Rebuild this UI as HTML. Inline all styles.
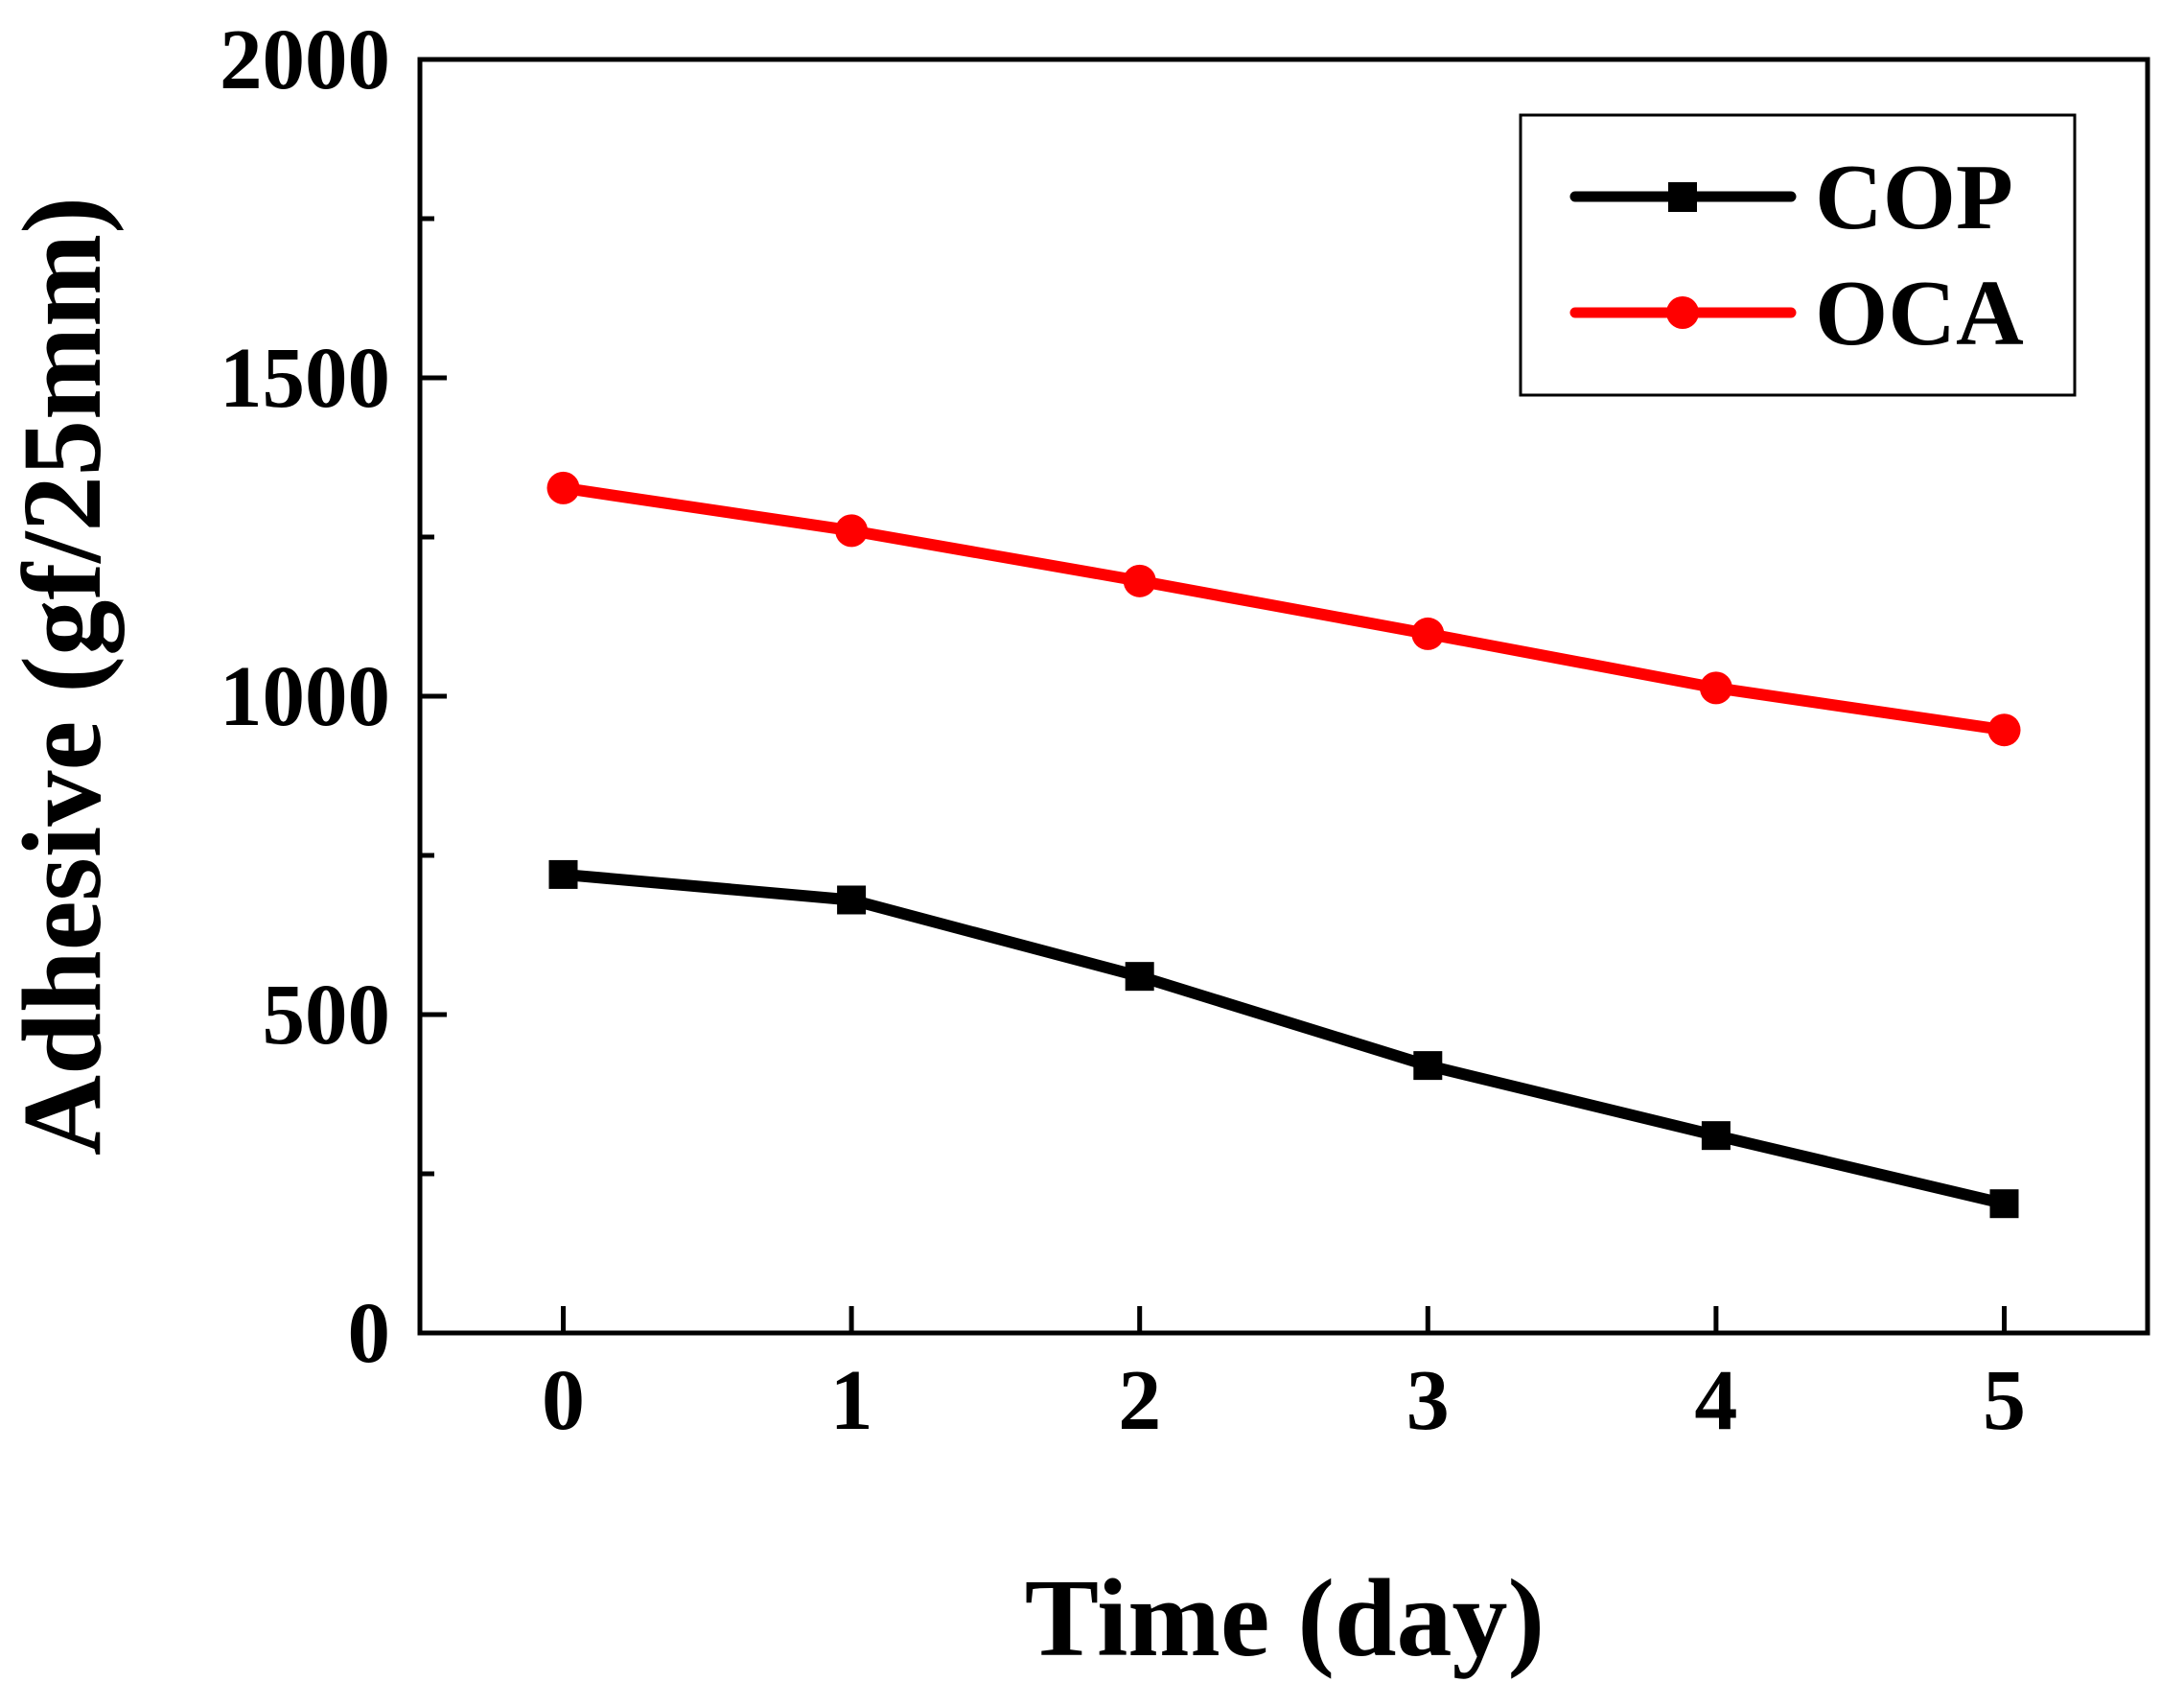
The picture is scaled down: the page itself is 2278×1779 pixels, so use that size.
<!DOCTYPE html>
<html><head><meta charset="utf-8"><style>
html,body{margin:0;padding:0;background:#fff;}
svg{display:block;}
text{font-family:"Liberation Serif",serif;font-weight:bold;fill:#000;}
</style></head><body>
<svg id="chart" width="2278" height="1779" viewBox="0 0 2278 1779" xmlns="http://www.w3.org/2000/svg">
<g id="plot"></g>
</svg>
<script>
const categories = [0, 1, 2, 3, 4, 5];
const copValues = [720, 680, 560, 420, 310, 203];
const ocaValues = [1327, 1260, 1181, 1098, 1013, 947];
const yTickValues = [0, 500, 1000, 1500, 2000];
const yTickLabels = ["0", "500", "1000", "1500", "2000"];
const yMinorValues = [250, 750, 1250, 1750];
const xTickLabels = ["0", "1", "2", "3", "4", "5"];

const NS = "http://www.w3.org/2000/svg";
const L = 438, R = 2240, T = 62, B = 1390;
const x = v => 587.5 + v * 300.6;
const y = v => B - (v / 2000) * (B - T);
const g = document.getElementById('plot');
function mk(tag, attrs, parent) {
  const e = document.createElementNS(NS, tag);
  for (const k in attrs) e.setAttribute(k, attrs[k]);
  (parent || g).appendChild(e);
  return e;
}

let frame = mk('rect', {x: L, y: T, width: R - L, height: B - T, fill: 'none', stroke: '#000', 'stroke-width': 5});



yTickValues.forEach((v, i) => {
  const t = mk('line', {x1: L, x2: L + 28, y1: y(v), y2: y(v), stroke: '#000', 'stroke-width': 5});
  
  
  const lb = mk('text', {x: 407, y: y(v) + 30, 'text-anchor': 'end', 'font-size': 90, textLength: yTickLabels[i].length * 44.5, lengthAdjust: 'spacingAndGlyphs'});
  lb.textContent = yTickLabels[i];
  
  
});
yMinorValues.forEach(v => {
  const t = mk('line', {x1: L, x2: L + 15, y1: y(v), y2: y(v), stroke: '#000', 'stroke-width': 5});
  
  
});
categories.forEach((c, i) => {
  const t = mk('line', {x1: x(c), x2: x(c), y1: B, y2: B - 28, stroke: '#000', 'stroke-width': 5});
  
  
  const lb = mk('text', {x: x(c), y: 1490, 'text-anchor': 'middle', 'font-size': 90});
  lb.textContent = xTickLabels[i];
  
  
});

function series(vals, color, name, marker) {
  const pts = vals.map((v, i) => x(categories[i]) + ',' + y(v)).join(' ');
  const pl = mk('polyline', {points: pts, fill: 'none', stroke: color, 'stroke-width': 12, 'stroke-linejoin': 'round'});
  
  
  vals.forEach((v, i) => {
    let m;
    if (marker === 'square') m = mk('rect', {x: x(categories[i]) - 15, y: y(v) - 15, width: 30, height: 30, fill: color});
    else m = mk('circle', {cx: x(categories[i]), cy: y(v), r: 17, fill: color});
    
    
  });
}
series(ocaValues, '#ff0000', 'oca', 'circle');
series(copValues, '#000000', 'cop', 'square');

const xt = mk('text', {x: 1340, y: 1726, 'text-anchor': 'middle', 'font-size': 116});
xt.textContent = 'Time (day)';


const yt = mk('text', {x: 0, y: 0, 'text-anchor': 'middle', 'font-size': 118, transform: 'translate(104,705) rotate(-90)', textLength: 1000, lengthAdjust: 'spacingAndGlyphs'});
yt.textContent = 'Adhesive (gf/25mm)';



const lg = mk('g', {});


mk('rect', {x: 1586, y: 120, width: 578, height: 292, fill: '#fff', stroke: '#000', 'stroke-width': 3}, lg);
const e1 = mk('g', {}, lg);


mk('line', {x1: 1643, x2: 1868, y1: 205, y2: 205, stroke: '#000', 'stroke-width': 11, 'stroke-linecap': 'round'}, e1);
mk('rect', {x: 1740, y: 190, width: 30, height: 31, fill: '#000'}, e1);
const t1 = mk('text', {x: 1893, y: 238, 'font-size': 98}, e1);
t1.textContent = 'COP';
const e2 = mk('g', {}, lg);


mk('line', {x1: 1643, x2: 1868, y1: 326, y2: 326, stroke: '#ff0000', 'stroke-width': 11, 'stroke-linecap': 'round'}, e2);
mk('circle', {cx: 1755, cy: 326, r: 17, fill: '#ff0000'}, e2);
const t2 = mk('text', {x: 1893, y: 359, 'font-size': 98}, e2);
t2.textContent = 'OCA';
</script>
</body></html>
